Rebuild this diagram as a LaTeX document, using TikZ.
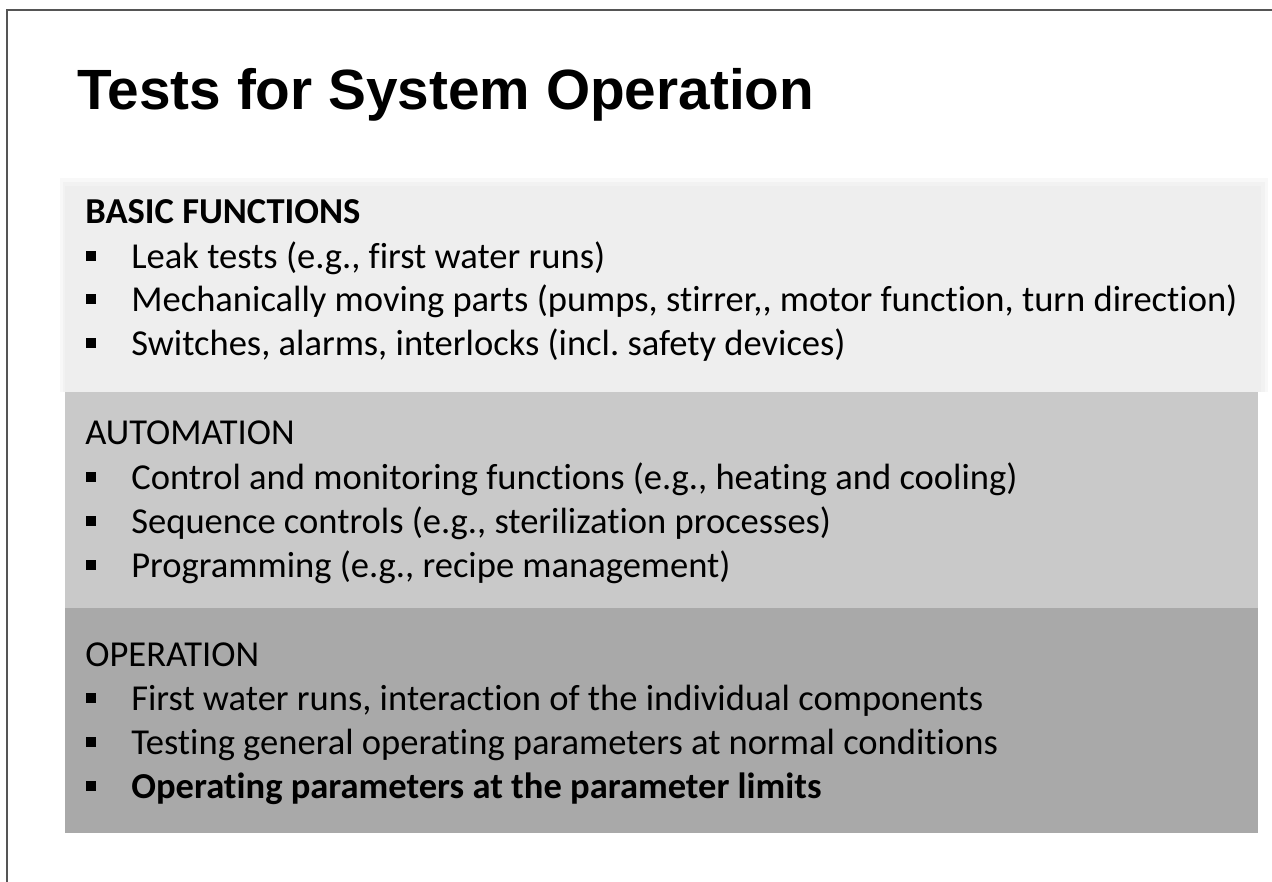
\documentclass[tikz,border=0pt]{standalone}
\usepackage{fontspec}
\setmainfont[Ligatures={NoCommon}]{Carlito}
\newfontfamily\titlefont{Liberation Sans}
\definecolor{bandlight}{HTML}{EEEEEE}
\definecolor{bandmid}{HTML}{C9C9C9}
\definecolor{banddark}{HTML}{A9A9A9}
\definecolor{framegray}{HTML}{555555}

\begin{document}
\begin{tikzpicture}[x=0.02cm, y=-0.02cm,
	item/.style={anchor=base west, inner sep=0pt, font=\fontsize{20.8}{24}\selectfont},
	head/.style={item},
	bullet/.style={fill=black}]
		%%%%% START %%%%%
		
		\useasboundingbox[fill=white] (0, 0) rectangle (1272, 882);
		\draw[line width=0.6pt, color=framegray] (7, 882) -- (7, 10) -- (1272, 10);
		
		\node[anchor=base west, inner sep=0pt, font=\titlefont\bfseries\fontsize{32.3}{38}\selectfont] (title) at (77, 110) {Tests for System Operation};
		
		% bands
		\fill[color=bandlight!40] (60, 178) rectangle (1268, 392);
		\fill[color=bandlight!75] (63, 182) rectangle (1265, 392);
		\fill[color=bandlight] (65, 186) rectangle (1261, 392);
		\fill[color=bandmid] (65, 392) rectangle (1258, 608);
		\fill[color=banddark] (65, 608) rectangle (1258, 833);
		
		% basic functions
		\node[head, font=\bfseries\fontsize{20.8}{24}\selectfont] (basic) at (85, 223) {BASIC FUNCTIONS};
		\fill[bullet] (86, 251) rectangle (96, 261);
		\node[item] (leak) at (131, 268) {Leak tests (e.g., first water runs)};
		\fill[bullet] (86, 294) rectangle (96, 304);
		\node[item] (mech) at (131, 311) {Mechanically moving parts (pumps, stirrer{,}{,} motor function, turn direction)};
		\fill[bullet] (86, 338) rectangle (96, 348);
		\node[item] (switch) at (131, 355) {Switches, alarms, interlocks (incl.\ safety devices)};
		
		% automation
		\node[head] (auto) at (85, 444) {AUTOMATION};
		\fill[bullet] (86, 472) rectangle (96, 482);
		\node[item] (control) at (131, 489) {Control and monitoring functions (e.g., heating and cooling)};
		\fill[bullet] (86, 516) rectangle (96, 526);
		\node[item] (sequence) at (131, 533) {Sequence controls (e.g., sterilization processes)};
		\fill[bullet] (86, 560) rectangle (96, 570);
		\node[item] (program) at (131, 577) {Programming (e.g., recipe management)};
		
		% operation
		\node[head] (oper) at (85, 666) {OPERATION};
		\fill[bullet] (86, 693) rectangle (96, 703);
		\node[item] (water) at (131, 710) {First water runs, interaction of the individual components};
		\fill[bullet] (86, 737) rectangle (96, 747);
		\node[item] (testing) at (131, 754) {Testing general operating parameters at normal conditions};
		\fill[bullet] (86, 781) rectangle (96, 791);
		\node[item, font=\bfseries\fontsize{20.8}{24}\selectfont] (limits) at (131, 798) {Operating parameters at the parameter limits};
		
		%%%%% END %%%%%
	\end{tikzpicture}
\end{document}
